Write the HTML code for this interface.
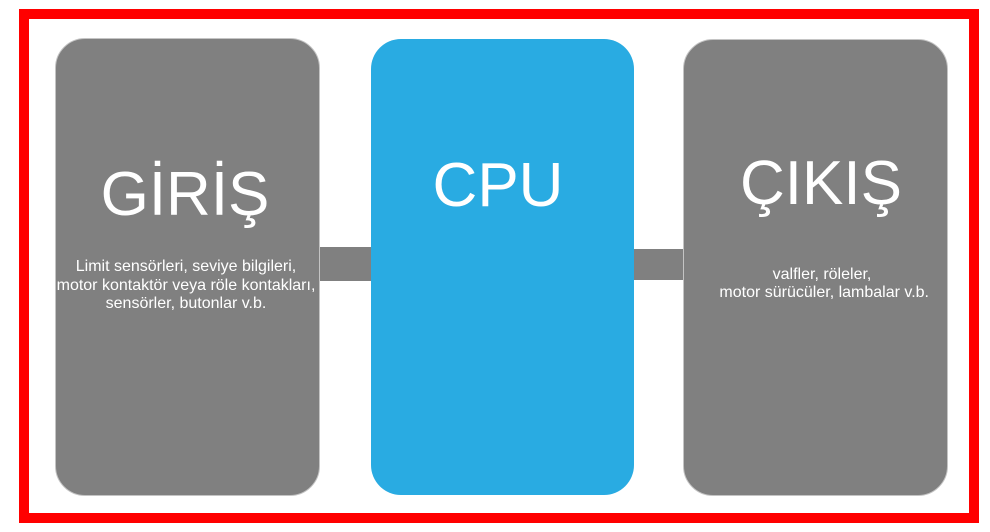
<!DOCTYPE html>
<html>
<head>
<meta charset="utf-8">
<style>
  html, body { margin:0; padding:0; background:#fff; }
  body { width:990px; height:532px; position:relative; overflow:hidden; font-family:"Liberation Sans", Arial, sans-serif; }
  .frame { position:absolute; left:19px; top:9px; width:960px; height:514px; border:10px solid #ff0000; box-sizing:border-box; }
  .box { position:absolute; border-radius:30px; box-sizing:border-box; }
  .gray { background:#808080; border:1px solid #c4c4c4; }
  .blue { background:#29abe2; }
  .conn { position:absolute; background:#808080; }
  .title { position:absolute; width:300px; text-align:center; color:#fff; font-size:62px; line-height:62px; white-space:nowrap; }
  .small { position:absolute; width:300px; text-align:center; color:#fff; font-size:16px; white-space:nowrap; }
</style>
</head>
<body>
  <div class="frame"></div>

  <div class="conn" style="left:318px; top:247px; width:54px; height:34px;"></div>
  <div class="conn" style="left:633px; top:249px; width:51px; height:31px;"></div>

  <div class="box gray" style="left:55px; top:38px; width:265px; height:458px;"></div>
  <div class="box blue" style="left:371px; top:39px; width:263px; height:456px;"></div>
  <div class="box gray" style="left:683px; top:39px; width:265px; height:457px;"></div>

  <div class="title" style="left:35px; top:163.5px;">GİRİŞ</div>
  <div class="title" style="left:348px; top:154.5px;">CPU</div>
  <div class="title" style="left:671px; top:152.5px;">ÇIKIŞ</div>

  <div class="small" style="left:36px; top:258px; line-height:18.5px;">Limit sensörleri, seviye bilgileri,<br>motor kontaktör veya röle kontakları,<br>sensörler, butonlar v.b.</div>
  <div class="small" style="left:672px; top:265.5px; line-height:18px;">valfler, röleler,<br>&nbsp;motor sürücüler, lambalar v.b.</div>
</body>
</html>
